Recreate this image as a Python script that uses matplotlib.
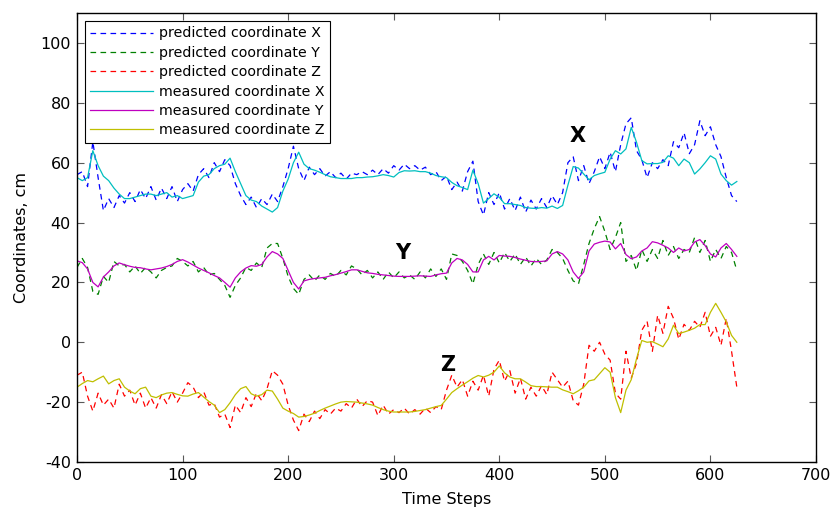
import numpy as np
import matplotlib
matplotlib.use("Agg")
import matplotlib.pyplot as plt

plt.rcParams['font.family'] = ['DejaVu Sans']
plt.rcParams['axes.unicode_minus'] = False

STEP = 5  # sampling interval of the series, in time steps

# measured coordinates (cm)
meas_x = [55, 54, 55, 64, 59, 55.5, 54, 51.5, 49.5, 48, 48, 48.5, 49, 49.5, 49.5, 49,
          49.5, 50, 48.5, 49, 48, 48.5, 49, 53.5, 55.5, 56, 58, 59, 59.5, 61.5, 57, 53,
          49, 47.5, 47, 45.5, 44.5, 43.5, 45, 50.5, 54.5, 60, 63.5, 59.5, 58, 57.5, 56.8,
          56, 55.3, 55, 54.7, 54.7, 54.7, 55, 55, 55.2, 55.3, 55.6, 56, 55.7, 55.2, 56.7,
          57.3, 57.2, 57.3, 57, 57, 56.5, 55.7, 55.3, 55, 53.4, 52.3, 51.7, 51, 57.5, 53,
          46.5, 48, 49.6, 48.4, 46.3, 46.3, 46, 45.7, 45, 44.8, 44.7, 45, 44.8, 45.5, 44.7,
          45.7, 52.5, 58.7, 58.2, 56.2, 54.3, 55.7, 56.3, 56.8, 61.2, 64, 62.9, 64.6, 71.8,
          66.8, 60.7, 59.6, 59.7, 59.7, 60.1, 62.3, 61.5, 59, 61.2, 60, 56.2, 57.9, 60,
          62.3, 61.2, 56.2, 54, 52.5, 53.7]

meas_y = [27.2, 26.6, 24.5, 20, 18.5, 21.8, 23.5, 25.5, 26.5, 25.9, 25.4, 25, 24.9, 24.5,
          24.2, 24.5, 24.8, 25.3, 26, 27, 27.6, 26.8, 25.8, 24.8, 24, 23.2, 22.3, 21.5, 20,
          18.4, 21.5, 23.5, 24.8, 25.6, 25.4, 26, 28.5, 30.3, 29.5, 28, 24, 20, 17.8, 20.5,
          21, 21.3, 21.5, 21.7, 22.2, 22.6, 23.1, 23.6, 24.2, 24.2, 23.7, 23.2, 23, 22.7,
          22.5, 22.3, 22.1, 22, 22, 22, 22.1, 22.2, 22.1, 22, 22.5, 22.9, 23.1, 26.5, 28,
          27.5, 26, 23.5, 23.5, 27.5, 28.7, 27.5, 29, 28.8, 28.7, 28.3, 27.8, 27.4, 27,
          26.9, 27, 27.2, 29.5, 30.3, 29.5, 27.5, 23.5, 21.3, 23.5, 30.5, 32.8, 33.4, 33.8,
          33.5, 31.2, 33, 29.3, 27.9, 28.5, 30.5, 31.5, 33.6, 33.2, 32.4, 31.5, 30, 31.5,
          30.5, 31, 33.5, 34.3, 32.3, 29.5, 28.5, 31.5, 33, 31, 28.7]

meas_z = [-15, -13.8, -12.8, -13.2, -12.2, -11.3, -13.9, -12.8, -12.2, -15, -16.3, -17.2,
          -15.5, -15, -18, -18.5, -17.6, -17, -16.8, -17.4, -17.9, -18, -17.3, -16.8, -18.3,
          -19.8, -21, -23.5, -22.5, -20.2, -17.5, -15.5, -14.8, -17.2, -18, -17.5, -16,
          -16.3, -19, -22, -23, -23.8, -25, -24.8, -24.3, -23.7, -22.8, -22, -21.3, -20.6,
          -20, -19.8, -19.9, -20, -20.3, -20.6, -21, -21.8, -22.5, -23, -23.3, -23.3, -23.3,
          -23.3, -23.1, -22.8, -22.5, -22, -21.5, -21.1, -19, -16.8, -15.5, -14.3, -13.2,
          -12, -11.1, -11.6, -11, -10, -7.9, -10.2, -11.6, -12.2, -12.2, -13.3, -14.5,
          -14.8, -14.8, -14.9, -15, -15, -15.9, -16.5, -17.2, -16.2, -15, -12.9, -12.5,
          -10.5, -8.5, -10, -18.5, -23.5, -16, -12.5, -5.5, 0.6, 0, 0.2, -0.6, -1.5, 1.1,
          5.7, 2.9, 3.4, 4, 4.7, 5.9, 5.9, 10, 13, 10, 6.8, 2.3, 0]

# predicted coordinates (cm)
pred_x = [56, 57, 52, 67, 55, 44, 48, 45, 49, 46.5, 50, 47, 51, 48, 52, 47.5, 51.5, 48,
          52, 47, 51, 53, 50.5, 56, 58, 55, 60, 57, 61, 59, 53, 49, 46, 48.5, 45, 48, 46,
          49.5, 47, 52, 58, 65.5, 58, 54, 58.5, 56, 58, 55.5, 57, 55, 56.5, 54.5, 56.5, 56,
          57, 56, 57.5, 56, 58, 56.5, 59, 57.5, 59.5, 58, 59, 57.5, 58.5, 56, 57, 54, 55.5,
          51, 53.5, 50.5, 57, 60.5, 47, 42.5, 50, 46, 50, 44.5, 48, 44, 48.5, 43.5, 47.5,
          44.5, 48, 45, 49, 46, 50, 60, 62, 54, 59, 53, 57, 62, 58, 63.5, 57, 66, 73, 75,
          64, 61, 55, 60, 58, 61, 59, 67, 65, 70, 63, 66, 74, 69, 72, 66, 62, 55, 49, 47]

pred_y = [25, 28, 25, 17, 16, 22, 20, 27, 25.5, 26, 23.5, 25.5, 23, 25, 23.5, 21.5, 24,
          25, 25.5, 28, 27, 25.5, 27, 23.5, 25, 22.5, 23, 21, 19, 15, 19, 21.5, 25, 24,
          26.5, 25, 31.5, 33, 33, 28, 22, 18, 16, 21, 22.5, 20.5, 22.5, 21, 23, 22, 24,
          22.5, 25.5, 24.5, 22.5, 24, 21.5, 23.5, 21, 23.5, 21.5, 23.5, 21.5, 22.5, 21,
          23.5, 21.5, 24.5, 22, 24.5, 21, 29.5, 29, 27, 24, 19.5, 26, 29.5, 26, 30, 26.5,
          30, 27, 29.5, 26, 28.5, 25.5, 28, 26, 27.5, 31, 30, 28, 24, 20.5, 19.5, 26, 33,
          38, 42, 37, 31, 35, 40, 27, 29, 24, 31, 27, 31, 28, 34, 29, 32, 28, 31, 30, 35,
          30, 34, 27, 31, 28, 32, 30, 24]

pred_z = [-11, -10, -18, -23, -17, -21, -19, -22, -14, -18, -16, -21, -17, -22, -18.5,
          -22, -17.5, -20.5, -16.5, -20, -17, -13.5, -15, -18.5, -16.5, -21, -20.5, -25,
          -24, -28.5, -21, -23.5, -18.5, -21.5, -17, -19.5, -15.5, -9.5, -11, -14, -21,
          -26, -29.5, -24, -26.5, -23, -25.5, -22.5, -24, -22, -23, -20.5, -22, -19, -21.5,
          -19.5, -20, -24.5, -21, -24, -22.5, -23.5, -22, -24, -22.5, -24, -22, -23.5,
          -21.5, -22.5, -16, -11, -15, -12.5, -18, -13, -16, -11, -18, -9, -6, -13, -9.5,
          -17, -12, -19, -15, -18, -14.5, -17.5, -10, -12.5, -15, -13, -19.5, -21, -14,
          -1, -3, 0, -4, -6, -17, -19, -3, -12, -7, 4, 7, -3, 9, 3, 12, 8, 1, 6, 4, 7, 5,
          10, 2, 5, -1, 8, -3, -15]

labels = ["predicted coordinate X", "predicted coordinate Y", "predicted coordinate Z",
          "measured coordinate X", "measured coordinate Y", "measured coordinate Z"]
x_ticks = [0, 100, 200, 300, 400, 500, 600, 700]
y_ticks = [-40, -20, 0, 20, 40, 60, 80, 100]

pred_colors = [(0, 0, 1), (0, 0.5, 0), (1, 0, 0)]
meas_colors = [(0, 0.75, 0.75), (0.75, 0, 0.75), (0.75, 0.75, 0)]


def steps(values):
    return np.arange(len(values)) * STEP


fig = plt.figure(figsize=(8.32, 5.08), dpi=100)
ax = fig.add_axes([77 / 832, 46 / 508, 739 / 832, 449 / 508])

for vals, col, lab in zip([pred_x, pred_y, pred_z], pred_colors, labels[:3]):
    ax.plot(steps(vals), vals, color=col, lw=0.9, dashes=(4.5, 3.5), label=lab)
for vals, col, lab in zip([meas_x, meas_y, meas_z], meas_colors, labels[3:]):
    ax.plot(steps(vals), vals, color=col, lw=0.9, label=lab)

ax.text(474, 69, "X", fontsize=15, fontweight='bold', ha='center', va='center')
ax.text(309, 29.7, "Y", fontsize=15, fontweight='bold', ha='center', va='center')
ax.text(351, -7.7, "Z", fontsize=15, fontweight='bold', ha='center', va='center')

ax.set_xlim(0, 700)
ax.set_ylim(-40, 110)
ax.set_xticks(x_ticks)
ax.set_yticks(y_ticks)
ax.tick_params(direction='in', length=5, width=0.8, top=True, right=True,
               labelsize=11.5, color='0.35', pad=4.5)
for sp in ax.spines.values():
    sp.set_linewidth(1.0)

ax.set_xlabel("Time Steps", fontsize=11.5, labelpad=6)
ax.set_ylabel("Coordinates, cm", fontsize=11.5, labelpad=8)

leg = ax.legend(loc='upper left', fontsize=10.2, frameon=True, fancybox=False,
                edgecolor='black', framealpha=1, handlelength=4.4, handletextpad=0.45,
                labelspacing=0.38, borderpad=0.4, borderaxespad=0.55)
leg.get_frame().set_linewidth(0.8)

fig.savefig("out.png", dpi=100)
